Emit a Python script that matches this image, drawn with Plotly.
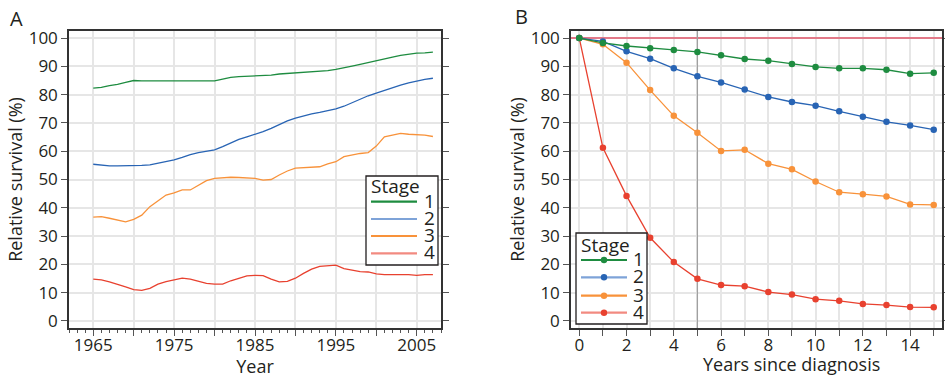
import plotly.graph_objects as go

# ---------------- data ----------------
years = list(range(1965, 2008))
stage1_year = [82.3, 82.6, 83.2, 83.6, 84.3, 85.0, 84.9, 84.9, 84.8, 84.7,
               84.7, 84.7, 84.8, 84.7, 84.7, 84.9, 85.5, 86.1, 86.4, 86.5,
               86.5, 86.6, 86.9, 87.3, 87.5, 87.7, 87.8, 88.1, 88.3, 88.5,
               88.9, 89.4, 90.1, 90.7, 91.4, 92.1, 92.7, 93.3, 93.9, 94.4,
               94.7, 94.8, 95.0]
stage2_year = [55.4, 55.0, 54.8, 54.8, 54.8, 54.8, 55.0, 55.2, 55.7, 56.2,
               56.9, 57.8, 58.8, 59.5, 59.9, 60.5, 61.6, 63.0, 64.2, 65.1,
               66.0, 66.9, 68.1, 69.5, 70.7, 71.7, 72.5, 73.2, 73.7, 74.3,
               75.0, 75.9, 77.1, 78.4, 79.6, 80.5, 81.5, 82.4, 83.4, 84.2,
               84.9, 85.4, 85.8]
stage3_year = [36.7, 36.9, 36.3, 35.6, 35.0, 35.9, 37.4, 40.4, 42.5, 44.5,
               45.3, 46.3, 46.3, 48.0, 49.6, 50.4, 50.6, 50.8, 50.7, 50.5,
               50.4, 49.8, 50.0, 51.6, 53.0, 54.0, 54.2, 54.4, 54.5, 55.5,
               56.3, 58.1, 58.7, 59.2, 59.5, 61.8, 65.1, 65.8, 66.3, 66.0,
               65.8, 65.7, 65.2]
stage4_year = [14.8, 14.5, 13.8, 13.0, 12.0, 11.1, 10.8, 11.5, 13.0, 13.9,
               14.6, 15.1, 14.8, 14.1, 13.3, 13.0, 13.0, 14.2, 15.1, 15.9,
               16.1, 16.0, 14.8, 13.8, 14.0, 15.1, 16.8, 18.3, 19.3, 19.5,
               19.7, 18.5, 17.9, 17.4, 17.3, 16.6, 16.4, 16.4, 16.6, 16.4,
               16.1, 16.4, 16.4]

years_since = list(range(0, 16))
stage1_since = [100, 98.3, 97.2, 96.4, 95.8, 95.1, 93.9, 92.6, 92.0, 90.8,
                89.8, 89.3, 89.3, 88.8, 87.4, 87.7]
stage2_since = [100, 98.8, 95.3, 92.7, 89.3, 86.5, 84.3, 81.8, 79.2, 77.4,
                76.1, 74.1, 72.2, 70.4, 69.1, 67.6]
stage3_since = [100, 97.8, 91.3, 81.6, 72.5, 66.5, 60.1, 60.5, 55.6, 53.6,
                49.3, 45.5, 44.8, 44.0, 41.2, 41.0]
stage4_since = [100, 61.2, 44.2, 29.4, 20.8, 14.9, 12.7, 12.3, 10.2, 9.3,
                7.7, 7.1, 6.0, 5.6, 4.9, 4.8]

stage_names = ["1", "2", "3", "4"]
colors = ["#1e8c40", "#2864b4", "#f8923a", "#e8412f"]
legend_colors = ["#1e8c40", "#7ea3d8", "#f8923a", "#f28a80"]

year_tick_vals = list(range(1965, 2010, 5))
year_tick_text = [str(v) if (v - 1965) % 10 == 0 else "" for v in year_tick_vals]
since_tick_text = [str(v) if v % 2 == 0 else "" for v in years_since]
y_ticks = list(range(0, 101, 10))

# ---------------- figure ----------------
W, H = 945, 378
FONT = "Open Sans, Noto Sans, sans-serif"
TXT = "#231f20"


def px(x):
    return x / W


def py(y):
    return 1 - y / H


fig = go.Figure()
year_series = [stage1_year, stage2_year, stage3_year, stage4_year]
since_series = [stage1_since, stage2_since, stage3_since, stage4_since]

# Panel B reference lines
fig.add_trace(go.Scatter(x=[-0.35, 15.35], y=[100, 100], mode="lines",
                         line=dict(color="#e05468", width=1.6),
                         xaxis="x2", yaxis="y2", showlegend=False, hoverinfo="skip"))
fig.add_trace(go.Scatter(x=[5, 5], y=[-2.5, 102.5], mode="lines",
                         line=dict(color="#a0a0a0", width=1.2),
                         xaxis="x2", yaxis="y2", showlegend=False, hoverinfo="skip"))

for name, vals, c in zip(stage_names, year_series, colors):
    fig.add_trace(go.Scatter(x=years, y=vals, mode="lines", name=name,
                             line=dict(color=c, width=1.3),
                             xaxis="x", yaxis="y", showlegend=False))
for name, vals, c in zip(stage_names[::-1], since_series[::-1], colors[::-1]):
    fig.add_trace(go.Scatter(x=years_since, y=vals, mode="lines+markers", name=name,
                             line=dict(color=c, width=1.3),
                             marker=dict(color=c, size=6.5),
                             xaxis="x2", yaxis="y2", showlegend=False))

axis_common = dict(showline=True, linecolor="#333333", linewidth=1.5,
                   showgrid=True, gridcolor="#e6e6e6", gridwidth=1.5,
                   ticks="outside", tickcolor="#555555", ticklen=6, tickwidth=1.2,
                   tickfont=dict(family=FONT, size=17, color=TXT),
                   zeroline=False, automargin=False)
title_font = dict(family=FONT, size=18, color=TXT)

fig.update_layout(
    width=W, height=H,
    margin=dict(l=0, r=0, t=0, b=0),
    paper_bgcolor="white", plot_bgcolor="white",
    font=dict(family=FONT, color=TXT),
    xaxis=dict(domain=[px(69), px(441)], range=[1962, 2008], anchor="y",
               tickmode="array", tickvals=year_tick_vals, ticktext=year_tick_text,
               minor=dict(dtick=1, tick0=1965, ticks="outside", ticklen=3,
                          tickcolor="#555555", showgrid=False),
               mirror=True, ticklabelstandoff=-5,
               title=dict(text="Year", font=title_font, standoff=2),
               **axis_common),
    yaxis=dict(domain=[1 - 328 / H, 1 - 31 / H], range=[-2.5, 102.5], anchor="x",
               tickmode="array", tickvals=y_ticks, mirror="ticks",
               title=dict(text="Relative survival (%)", font=title_font, standoff=1),
               **axis_common),
    xaxis2=dict(domain=[px(571), px(942)], range=[-0.35, 15.35], anchor="y2",
                tickmode="array", tickvals=years_since, ticktext=since_tick_text,
                mirror=True, ticklabelstandoff=-5, **axis_common),
    yaxis2=dict(domain=[1 - 328 / H, 1 - 31 / H], range=[-2.5, 102.5], anchor="x2",
                tickmode="array", tickvals=y_ticks, mirror="ticks",
                title=dict(text="Relative survival (%)", font=title_font, standoff=1),
                **axis_common),
)

shapes = []
annotations = []

annotations.append(dict(text="A", x=px(8), y=py(18), xref="paper", yref="paper",
                        xanchor="left", yanchor="middle", showarrow=False,
                        font=dict(family=FONT, size=20, color=TXT)))
annotations.append(dict(text="B", x=px(513), y=py(16), xref="paper", yref="paper",
                        xanchor="left", yanchor="middle", showarrow=False,
                        font=dict(family=FONT, size=20, color=TXT)))
annotations.append(dict(text="Years since diagnosis", x=px(791), y=py(364),
                        xref="paper", yref="paper", xanchor="center", yanchor="middle",
                        showarrow=False, font=title_font))


def add_legend(x0, y0, x1, y1, line_x0, line_x1, item_ys, text_x, title_y, markers):
    shapes.append(dict(type="rect", xref="paper", yref="paper",
                       x0=px(x0), x1=px(x1), y0=py(y0), y1=py(y1),
                       line=dict(color=TXT, width=1.3), fillcolor="white",
                       layer="above"))
    annotations.append(dict(text="Stage", x=px(line_x0 - 2), y=py(title_y),
                            xref="paper", yref="paper", xanchor="left", yanchor="middle",
                            showarrow=False, font=dict(family=FONT, size=19, color=TXT)))
    for name, c, lc, yy in zip(stage_names, colors, legend_colors, item_ys):
        shapes.append(dict(type="line", xref="paper", yref="paper",
                           x0=px(line_x0), x1=px(line_x1), y0=py(yy), y1=py(yy),
                           line=dict(color=lc, width=2.2), layer="above"))
        if markers:
            mx = (line_x0 + line_x1) / 2
            r = 3.2
            shapes.append(dict(type="circle", xref="paper", yref="paper",
                               x0=px(mx - r), x1=px(mx + r), y0=py(yy - r), y1=py(yy + r),
                               line=dict(color=c, width=0), fillcolor=c, layer="above"))
        annotations.append(dict(text=name, x=px(text_x), y=py(yy - 1), xref="paper",
                                yref="paper", xanchor="left", yanchor="middle",
                                height=16, valign="middle", borderpad=0,
                                showarrow=False, font=dict(family=FONT, size=19, color=TXT)))


add_legend(366, 176, 438, 265, 371, 417, [201.7, 219.0, 236.0, 253.3], 423, 186, False)
add_legend(576, 233, 647, 324, 581, 627, [260.0, 277.3, 295.7, 312.7], 632, 245, True)

fig.update_layout(shapes=shapes, annotations=annotations)

fig.write_html("out.html",
               config={"displayModeBar": False},
               post_script="document.body.style.margin='0px';"
                           "document.body.style.overflow='hidden';")
